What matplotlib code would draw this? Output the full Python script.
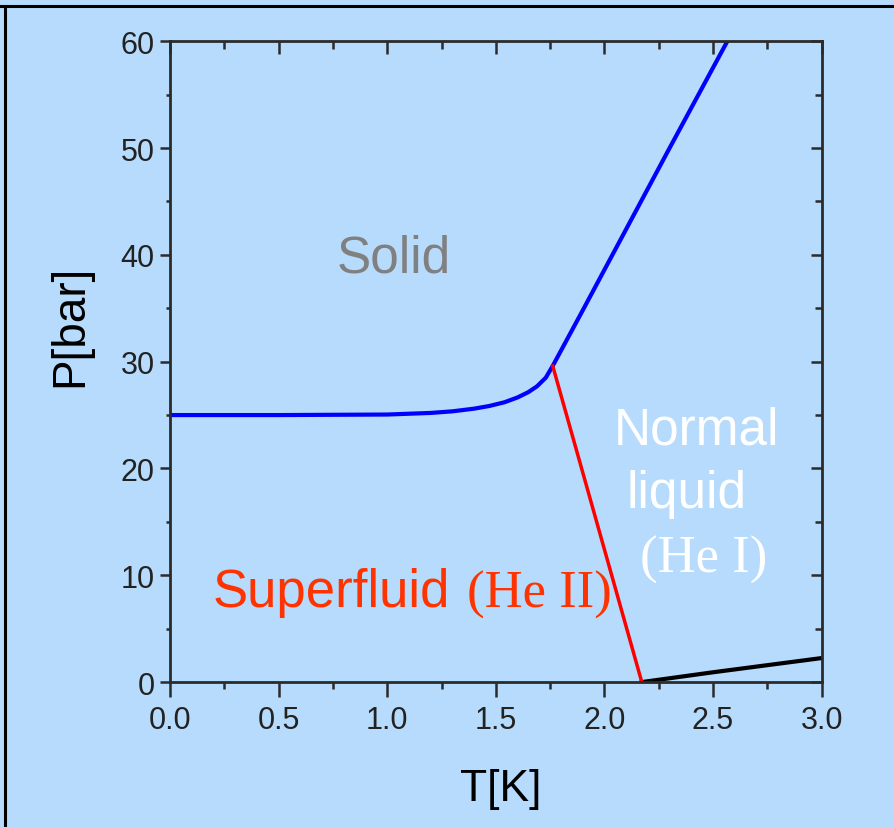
import matplotlib.pyplot as plt
from matplotlib.lines import Line2D

# ==========================
# Data
# ==========================
melt_T = [0.0, 0.5, 1.0, 1.2, 1.3, 1.4, 1.47, 1.54, 1.6, 1.65, 1.69, 1.73, 1.762,
          1.9, 2.1, 2.3, 2.566]
melt_P = [25.0, 25.0, 25.05, 25.2, 25.35, 25.6, 25.85, 26.2, 26.65, 27.15, 27.7, 28.5, 29.6,
          34.8, 42.4, 50.0, 60.0]

lambda_T = [1.762, 2.172]
lambda_P = [29.6, 0.0]

vapor_T = [2.172, 2.5, 3.0]
vapor_P = [0.0, 0.92, 2.25]

xticks = [0.0, 0.5, 1.0, 1.5, 2.0, 2.5, 3.0]
xminor = [0.25, 0.75, 1.25, 1.75, 2.25, 2.75]
yticks = [0, 10, 20, 30, 40, 50, 60]
yminor = [5, 15, 25, 35, 45, 55]

bg = "#b6dbfc"
spine = "#2b2b2b"

# ==========================
# Plot
# ==========================
plt.rcParams['font.family'] = ['Liberation Sans', 'DejaVu Sans']

fig = plt.figure(figsize=(8.95, 8.28), dpi=100, facecolor=bg)
ax = fig.add_axes([0.190, 0.175, 0.728, 0.774], facecolor=bg)

ax.plot(melt_T, melt_P, color="#0000ff", lw=3, solid_capstyle='round')
ax.plot(vapor_T, vapor_P, color="black", lw=3)
ax.plot(lambda_T, lambda_P, color="#ff0000", lw=2.5)

ax.set_xlim(0, 3.0)
ax.set_ylim(0, 60)

for s in ax.spines.values():
    s.set_color(spine)
    s.set_linewidth(2.0)

ax.set_xticks(xticks)
ax.set_xticks(xminor, minor=True)
ax.set_yticks(yticks)
ax.set_yticks(yminor, minor=True)
ax.set_xticklabels([f"{v:.1f}" for v in xticks])

ax.tick_params(axis='x', which='major', direction='out', length=10.5, width=1.8,
               color=spine, labelsize=22, labelcolor="#222222", pad=6)
ax.tick_params(axis='x', which='minor', direction='out', length=5, width=1.8, color=spine)
ax.tick_params(axis='y', which='major', direction='out', length=7, width=1.8,
               color=spine, labelsize=22, labelcolor="#222222", pad=4)
ax.tick_params(axis='y', which='minor', direction='out', length=3, width=1.8, color=spine)

# top / right ticks point inward
top = ax.secondary_xaxis('top')
top.set_xticks(xticks)
top.set_xticks(xminor, minor=True)
top.tick_params(which='major', direction='in', length=9, width=1.8, color=spine, labeltop=False)
top.tick_params(which='minor', direction='in', length=5.5, width=1.8, color=spine)
top.spines['top'].set_visible(False)

right = ax.secondary_yaxis('right')
right.set_yticks(yticks)
right.set_yticks(yminor, minor=True)
right.tick_params(which='major', direction='in', length=8, width=1.8, color=spine, labelright=False)
right.tick_params(which='minor', direction='in', length=5, width=1.8, color=spine)
right.spines['right'].set_visible(False)

# region labels
ax.text(1.031, 38.4, "Solid", color="#808080", fontsize=37, ha='center', va='baseline')
ax.text(2.425, 22.3, "Normal", color="white", fontsize=37, ha='center', va='baseline')
ax.text(2.38, 16.4, "liquid", color="white", fontsize=37, ha='center', va='baseline')
ax.text(2.457, 10.3, "(He I)", color="white", fontsize=38, ha='center', va='baseline',
        family='Liberation Serif')
ax.text(0.195, 7.1, "Superfluid", color="#ff3300", fontsize=38, ha='left', va='baseline')
ax.text(1.368, 7.1, "(He II)", color="#ff3300", fontsize=38, ha='left', va='baseline',
        family='Liberation Serif')

# axis labels
fig.text(0.078, 0.607, "P[bar]", rotation=90, fontsize=33, ha='center', va='center')
fig.text(0.559, 0.046, "T[K]", fontsize=32, ha='center', va='center')

# frame lines at the top and left of the figure
fig.add_artist(Line2D([0, 1], [0.992, 0.992], transform=fig.transFigure, color="black", lw=2.2))
fig.add_artist(Line2D([0.006, 0.006], [0, 0.992], transform=fig.transFigure, color="black", lw=2.2))

fig.savefig("out.png", dpi=100, facecolor=bg)
